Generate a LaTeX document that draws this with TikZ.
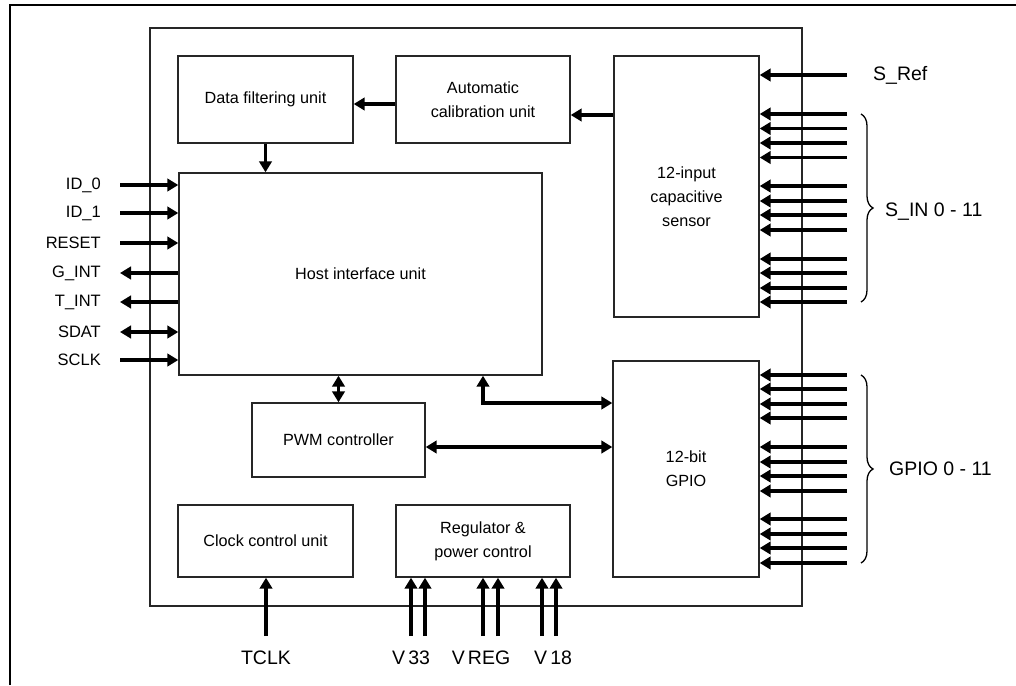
\documentclass[tikz,border=0pt]{standalone}
\usepackage{fontspec}
\setmainfont{Liberation Sans}
\usetikzlibrary{arrows.meta,decorations.pathreplacing,calc}
\tikzset{
  box/.style={draw=black!85, line width=1.4pt, inner sep=0pt, align=center, font=\fontsize{16.2}{24}\selectfont},
  arr/.style={line width=3.1pt, -{Triangle[length=11pt,width=12.5pt]}},
  dbl/.style={line width=3.1pt, {Triangle[length=11pt,width=12.5pt]}-{Triangle[length=11pt,width=12.5pt]}},
  sig/.style={font=\fontsize{16.5}{19}\selectfont, inner sep=0pt},
  big/.style={font=\fontsize{19.5}{22}\selectfont, inner sep=0pt},
  brc/.style={line width=1.3pt, decorate, decoration={brace, amplitude=12pt}}
}
\begin{document}
\begin{tikzpicture}[x=1pt,y=-1pt]
\useasboundingbox (0,0) rectangle (1016,685);
% outer frame (cropped)
\draw[line width=2.5pt] (10,685) -- (10,5) -- (1016,5);
% chip border
\node[draw=black!85, line width=1.4pt, minimum width=652pt, minimum height=578pt, inner sep=0pt] (chip) at (476,317) {};
% blocks
\node[box, minimum width=175pt, minimum height=87pt] (dfu) at (265.5,99.5) {Data filtering unit};
\node[box, minimum width=174pt, minimum height=87pt] (acu) at (483,99.5) {Automatic\\calibration unit};
\node[box, minimum width=145pt, minimum height=261pt] (sens) at (686.5,186.5) {};
\node[align=center, font=\fontsize{16.2}{24}\selectfont, inner sep=0pt] (senst) at (686.5,197) {12-input\\capacitive\\sensor};
\node[box, minimum width=363pt, minimum height=202pt] (hiu) at (360.5,274) {Host interface unit};
\node[box, minimum width=173pt, minimum height=74pt] (pwm) at (338.5,440) {PWM controller};
\node[box, minimum width=146pt, minimum height=216pt] (gpio) at (686,469) {12-bit\\GPIO};
\node[box, minimum width=175pt, minimum height=72pt] (ccu) at (265.5,541) {Clock control unit};
\node[box, minimum width=174pt, minimum height=72pt] (reg) at (483,541) {Regulator \&\\power control};
% internal connections
\draw[arr] ([yshift=-4.5pt]acu.west) -- ([yshift=-4.5pt]dfu.east);
\draw[arr] ([yshift=-15.5pt]sens.west|-acu.east) -- ([yshift=-15.5pt]acu.east);
\draw[arr] (dfu.south) -- (hiu.north -| dfu.south);
\draw[dbl] (hiu.south -| pwm.north) -- (pwm.north);
\coordinate (hg) at (483,403);
\draw[dbl] (hiu.south -| hg) -- (hg) -- (gpio.west |- hg);
\draw[dbl] ([yshift=-7pt]pwm.east) -- ([yshift=-7pt]pwm.east -| gpio.west);
% left signals
\foreach \nm/\txt/\y in {l0/ID\_0/185, l1/ID\_1/213, l2/RESET/243, l3/G\_INT/273, l4/T\_INT/302, l5/SDAT/332, l6/SCLK/360}{
  \node[sig, anchor=east] (\nm t) at (101,\y) {\txt};
  \coordinate (\nm) at (120,\y);
}
\draw[arr] (l0) -- (hiu.west |- l0);
\draw[arr] (l1) -- (hiu.west |- l1);
\draw[arr] (l2) -- (hiu.west |- l2);
\draw[arr] (hiu.west |- l3) -- (l3);
\draw[arr] (hiu.west |- l4) -- (l4);
\draw[dbl] (l5) -- (hiu.west |- l5);
\draw[arr] (l6) -- (hiu.west |- l6);
% S_Ref
\node[big, anchor=west] (sref) at (873,75) {S\_Ref};
\coordinate (sr) at (847,75);
\draw[arr] (sr) -- (sens.east |- sr);
% S_IN
\foreach \y in {114,128.5,143,157.5,186,201,215,230,259,273,288,302}{
  \coordinate (s) at (847,\y);
  \draw[arr] (s) -- (sens.east |- s);
}
\draw[brc] (861,114) -- (861,302);
\node[big, anchor=west] (sin) at (885,212) {S\_IN 0 - 11};
% GPIO
\foreach \y in {375,389,404,418,447,462,476,491,519,534,548,563}{
  \coordinate (g) at (847,\y);
  \draw[arr] (g) -- (gpio.east |- g);
}
\draw[brc] (861,375) -- (861,563);
\node[big, anchor=west] (gpl) at (889,469) {GPIO 0 - 11};
% bottom signals
\node[big] (tclk) at (266,658) {TCLK};
\coordinate (tc) at (266,636);
\draw[arr] (tc) -- (ccu.south -| tc);
\foreach \x in {411,425,483,498,542,556}{
  \coordinate (v) at (\x,636);
  \draw[arr] (v) -- (reg.south -| v);
}
\node[big] (v33) at (411,658) {V\,33};
\node[big] (vreg) at (481,658) {V\,REG};
\node[big] (v18) at (553,658) {V\,18};
\end{tikzpicture}
\end{document}
